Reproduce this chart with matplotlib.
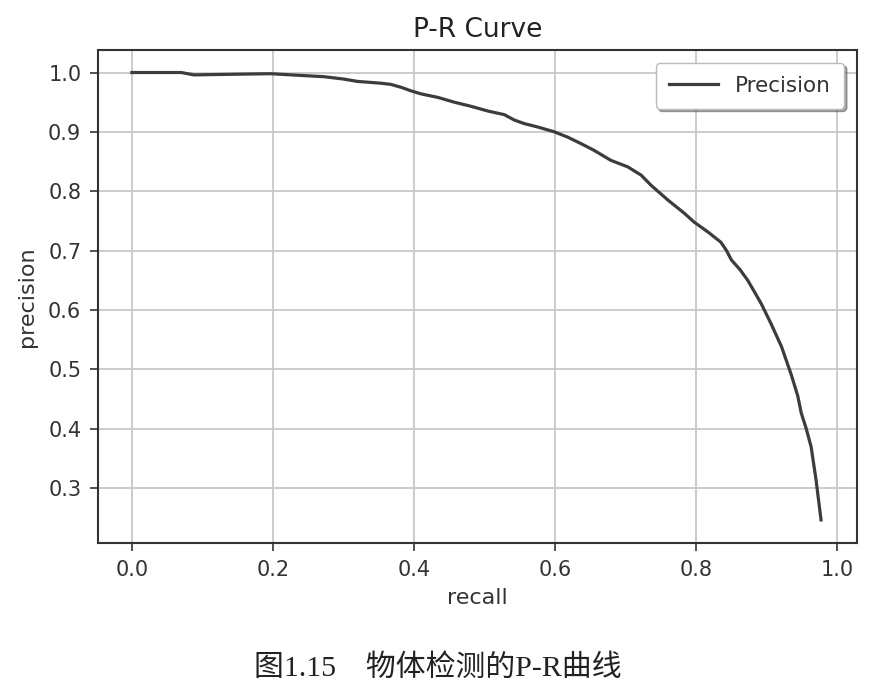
import matplotlib
matplotlib.use("Agg")
import matplotlib.pyplot as plt

# values
recall = [0.000, 0.070, 0.088, 0.140, 0.197, 0.226, 0.272, 0.300, 0.320, 0.353,
          0.367, 0.382, 0.396, 0.410, 0.434, 0.457, 0.481, 0.505, 0.528, 0.542,
          0.556, 0.576, 0.599, 0.618, 0.637, 0.655, 0.679, 0.703, 0.722, 0.736,
          0.760, 0.783, 0.797, 0.817, 0.835, 0.843, 0.850, 0.862, 0.873, 0.892,
          0.906, 0.921, 0.935, 0.944, 0.949, 0.956, 0.963, 0.970, 0.977]
precision = [1.000, 1.000, 0.996, 0.997, 0.998, 0.996, 0.993, 0.989, 0.985, 0.982,
             0.980, 0.975, 0.969, 0.964, 0.958, 0.950, 0.943, 0.935, 0.929, 0.920,
             0.914, 0.908, 0.900, 0.891, 0.880, 0.869, 0.852, 0.841, 0.827, 0.810,
             0.785, 0.763, 0.748, 0.731, 0.714, 0.700, 0.684, 0.668, 0.650, 0.611,
             0.577, 0.538, 0.490, 0.455, 0.426, 0.400, 0.369, 0.313, 0.246]
x_ticks = [0.0, 0.2, 0.4, 0.6, 0.8, 1.0]
y_ticks = [0.3, 0.4, 0.5, 0.6, 0.7, 0.8, 0.9, 1.0]
caption = "图1.15\u3000物体检测的P-R曲线"

fig = plt.figure(figsize=(8.76, 6.97), dpi=100)
ax = fig.add_axes([0.1119, 0.2209, 0.8664, 0.7074])

ax.plot(recall, precision, color='#3c3c3c', linewidth=2.3, label='Precision')
ax.set_xlim(-0.048, 1.028)
ax.set_ylim(0.207, 1.038)
ax.set_xticks(x_ticks)
ax.set_yticks(y_ticks)
ax.tick_params(labelsize=15, colors='#333333', length=6, width=1.2, pad=6)
ax.grid(color='#c8c8c8', linewidth=1.3)
for s in ax.spines.values():
    s.set_color('#333333')
    s.set_linewidth(1.5)

ax.set_xlabel('recall', fontsize=16, color='#333333', labelpad=6)
ax.set_ylabel('precision', fontsize=16, color='#333333', labelpad=8)
ax.set_title('P-R Curve', fontsize=19, color='#222222', pad=9)

leg = ax.legend(loc='upper right', fontsize=15.5, shadow=True, fancybox=True,
                framealpha=1, handlelength=2.3, borderpad=0.6,
                borderaxespad=0.6)
leg.get_frame().set_edgecolor('#bbbbbb')
for t in leg.get_texts():
    t.set_color('#333333')

fig.text(0.5, 0.042, caption, ha='center', va='center', fontsize=21.5,
         family=['Liberation Serif', 'Noto Sans CJK SC'], color='#222222')

fig.savefig('out.png', dpi=100, facecolor='white')
